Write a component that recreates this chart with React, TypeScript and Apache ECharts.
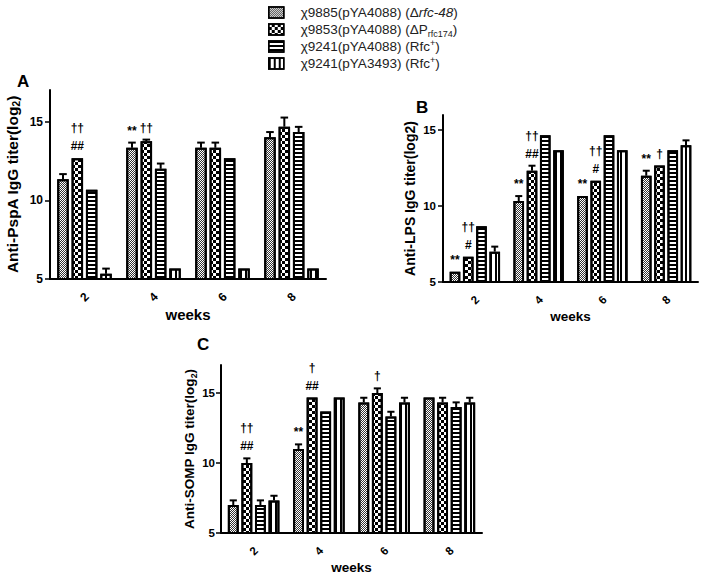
import React, { useEffect, useRef } from 'react';
import * as echarts from 'echarts';

// ---------- data ----------
const weeks = ['2', '4', '6', '8'];

const seriesNames = [
  'χ9885(pYA4088) (Δrfc-48)',
  'χ9853(pYA4088) (ΔPrfc174)',
  'χ9241(pYA4088) (Rfc+)',
  'χ9241(pYA3493) (Rfc+)',
];
const legendLabels = [
  'χ9885(pYA4088) (Δ{i|rfc-48})',
  'χ9853(pYA4088) (ΔP{sub|rfc174})',
  'χ9241(pYA4088) (Rfc{sup|+})',
  'χ9241(pYA3493) (Rfc{sup|+})',
];

// Panel A: Anti-PspA IgG titer (log2), one row per strain, one value per week
const pspaMeans = [
  [11.33, 13.33, 13.33, 14.0],
  [12.67, 13.75, 13.33, 14.67],
  [10.67, 12.0, 12.67, 14.33],
  [5.33, 5.67, 5.67, 5.67],
];
const pspaErrors = [
  [0.33, 0.33, 0.33, 0.33],
  [0, 0.1, 0.33, 0.58],
  [0, 0.33, 0, 0.33],
  [0.33, 0, 0, 0],
];
const pspaMarks = [
  ['', '**', '', ''],
  ['††\n##', '††', '', ''],
  ['', '', '', ''],
  ['', '', '', ''],
];

// Panel B: Anti-LPS IgG titer (log2)
const lpsMeans = [
  [5.67, 10.33, 10.67, 12.0],
  [6.67, 12.33, 11.67, 12.67],
  [8.67, 14.67, 14.67, 13.67],
  [7.0, 13.67, 13.67, 14.0],
];
const lpsErrors = [
  [0, 0.33, 0, 0.33],
  [0, 0.33, 0, 0],
  [0, 0, 0, 0],
  [0.33, 0, 0, 0.33],
];
const lpsMarks = [
  ['**', '**', '**', '**'],
  ['††\n#', '††\n##', '††\n#', '†'],
  ['', '', '', ''],
  ['', '', '', ''],
];

// Panel C: Anti-SOMP IgG titer (log2)
const sompMeans = [
  [7.0, 11.0, 14.33, 14.67],
  [10.0, 14.67, 15.0, 14.33],
  [7.0, 13.67, 13.33, 14.0],
  [7.33, 14.67, 14.33, 14.33],
];
const sompErrors = [
  [0.33, 0.33, 0.33, 0],
  [0.33, 0, 0.33, 0.33],
  [0.33, 0, 0.33, 0.33],
  [0.33, 0, 0.33, 0.33],
];
const sompMarks = [
  ['', '**', '', ''],
  ['††\n##', '†\n##', '†', ''],
  ['', '', '', ''],
  ['', '', '', ''],
];

const yTicks = [5, 10, 15];

// ---------- styling ----------
const FONT = '"Liberation Sans", Arial, sans-serif';
const CAT_GAP = 0.21;
const BAR_GAP = 0.25;

const decals: any[] = [
  { symbol: 'rect', symbolSize: 1, color: '#333', backgroundColor: '#fff', dashArrayX: [[1, 1], [0, 1, 1, 0]], dashArrayY: [1, 0] },
  { symbol: 'rect', symbolSize: 1, color: '#000', backgroundColor: '#fff', dashArrayX: [[3, 3], [0, 3, 3, 0]], dashArrayY: [3, 0] },
  { symbol: 'rect', symbolSize: 1, color: '#000', backgroundColor: '#fff', dashArrayX: [1, 0], dashArrayY: [1.5, 2] },
  { symbol: 'rect', symbolSize: 1, color: '#000', backgroundColor: '#fff', dashArrayX: [1.5, 2.2], dashArrayY: [1, 0] },
];

const panels = [
  {
    letter: 'A', means: pspaMeans, errors: pspaErrors, marks: pspaMarks, max: 17,
    name: 'Anti-PspA IgG titer(log{s|2})',
    grid: { left: 50, top: 90, width: 276, height: 189 },
    letterPos: { left: 17, top: 73 },
    titleSize: 15.5, titleGap: 29, tickSize: 12, weeksSize: 15, weeksGap: 28, labelMargin: 7,
  },
  {
    letter: 'B', means: lpsMeans, errors: lpsErrors, marks: lpsMarks, max: 16,
    name: 'Anti-LPS IgG titer(log2)',
    grid: { left: 443, top: 115, width: 255, height: 167 },
    letterPos: { left: 416, top: 99 },
    titleSize: 14, titleGap: 23, tickSize: 11.5, weeksSize: 13.5, weeksGap: 27, labelMargin: 7,
  },
  {
    letter: 'C', means: sompMeans, errors: sompErrors, marks: sompMarks, max: 17,
    name: 'Anti-SOMP IgG titer(log{s|2})',
    grid: { left: 221, top: 365, width: 261, height: 168 },
    letterPos: { left: 197, top: 336 },
    titleSize: 13.5, titleGap: 11, tickSize: 11.5, weeksSize: 13.5, weeksGap: 26, labelMargin: 6,
  },
];

function makeRenderItem(k: number, errs: number[], marks: string[]) {
  return (params: any, api: any) => {
    const cat = api.value(0);
    const val = api.value(1);
    const err = errs[params.dataIndex] || 0;
    const mark = marks[params.dataIndex] || '';
    const base = api.coord([cat, val]);
    const band = api.size([1, 0])[0];
    const avail = band * (1 - CAT_GAP);
    const bw = avail / (4 + 3 * BAR_GAP);
    const cx = base[0] - avail / 2 + k * bw * (1 + BAR_GAP) + bw / 2;
    const topY = api.coord([cat, val + err])[1];
    const children: any[] = [];
    if (err > 0) {
      children.push({ type: 'line', shape: { x1: cx, y1: base[1], x2: cx, y2: topY }, style: { stroke: '#000', lineWidth: 2 } });
      children.push({ type: 'line', shape: { x1: cx - bw * 0.33, y1: topY, x2: cx + bw * 0.33, y2: topY }, style: { stroke: '#000', lineWidth: 2 } });
    }
    if (mark) {
      children.push({
        type: 'text',
        style: {
          text: mark, x: cx, y: topY - 3, align: 'center', verticalAlign: 'bottom',
          fontFamily: FONT, fontSize: 12, fontWeight: 'bold', lineHeight: 18, fill: '#000',
        },
      });
    }
    return { type: 'group', children };
  };
}

function buildOption() {
  const grids: any[] = [];
  const xAxes: any[] = [];
  const yAxes: any[] = [];
  const series: any[] = [];
  const titles: any[] = [];

  panels.forEach((p, pi) => {
    grids.push({ ...p.grid, containLabel: false });
    titles.push({
      text: p.letter, left: p.letterPos.left, top: p.letterPos.top, padding: 0,
      textStyle: { fontFamily: FONT, fontSize: 17, fontWeight: 'bold', color: '#000' },
    });
    xAxes.push({
      type: 'category', gridIndex: pi, data: weeks, boundaryGap: true,
      name: 'weeks', nameLocation: 'middle', nameGap: p.weeksGap,
      nameTextStyle: { fontFamily: FONT, fontSize: p.weeksSize, fontWeight: 'bold', color: '#000' },
      axisLine: { lineStyle: { color: '#000', width: 2 } },
      axisTick: { alignWithLabel: true, length: 5, lineStyle: { color: '#000', width: 1.5 } },
      axisLabel: {
        rotate: 45, align: 'center', verticalAlign: 'middle', margin: 18,
        fontFamily: FONT, fontSize: p.tickSize, fontWeight: 'bold', color: '#000',
      },
      splitLine: { show: false },
    });
    yAxes.push({
      type: 'value', gridIndex: pi, min: 5, max: p.max, interval: 5,
      name: p.name, nameLocation: 'middle', nameGap: p.titleGap, nameRotate: 90,
      nameTextStyle: {
        fontFamily: FONT, fontSize: p.titleSize, fontWeight: 'bold', color: '#000', lineHeight: 18,
        rich: { s: { fontFamily: FONT, fontSize: p.titleSize * 0.65, fontWeight: 'bold', color: '#000', verticalAlign: 'bottom' } },
      },
      axisLine: { show: true, lineStyle: { color: '#000', width: 2 } },
      axisTick: { show: true, length: 5, customValues: yTicks, lineStyle: { color: '#000', width: 1.5 } },
      axisLabel: {
        customValues: yTicks, margin: p.labelMargin, fontFamily: FONT, fontSize: p.tickSize, fontWeight: 'bold', color: '#000',
        formatter: (v: number) => (v % 5 === 0 ? String(v) : ''),
      },
      splitLine: { show: false },
    });
    for (let k = 0; k < 4; k++) {
      series.push({
        type: 'bar', name: seriesNames[k], xAxisIndex: pi, yAxisIndex: pi,
        data: p.means[k], barGap: `${BAR_GAP * 100}%`, barCategoryGap: `${CAT_GAP * 100}%`,
        itemStyle: { color: '#fff', borderColor: '#000', borderWidth: 2, decal: decals[k] },
        emphasis: { disabled: true },
      });
    }
    for (let k = 0; k < 4; k++) {
      series.push({
        type: 'custom', name: `err-${p.letter}-${k}`, xAxisIndex: pi, yAxisIndex: pi,
        data: weeks.map((_, i) => [i, p.means[k][i]]),
        encode: { x: 0, y: 1 }, clip: false, z: 5,
        renderItem: makeRenderItem(k, p.errors[k], p.marks[k]),
      });
    }
  });

  return {
    animation: false,
    backgroundColor: '#fff',
    title: titles,
    legend: {
      data: seriesNames, orient: 'vertical', left: 268, top: 4, padding: 0, itemGap: 0,
      itemWidth: 15, itemHeight: 11, icon: 'rect', selectedMode: false,
      itemStyle: { borderColor: '#000', borderWidth: 1.5 },
      formatter: (name: string) => legendLabels[seriesNames.indexOf(name)],
      textStyle: {
        fontFamily: FONT, fontSize: 13.5, color: '#222', lineHeight: 17, padding: [0, 0, 0, 12],
        rich: {
          i: { fontFamily: FONT, fontSize: 13.5, fontStyle: 'italic', color: '#222', lineHeight: 17 },
          sub: { fontFamily: FONT, fontSize: 9, color: '#222', verticalAlign: 'bottom' },
          sup: { fontFamily: FONT, fontSize: 9, color: '#222', verticalAlign: 'top' },
        },
      },
    },
    grid: grids,
    xAxis: xAxes,
    yAxis: yAxes,
    series,
  };
}

export default function App() {
  const ref = useRef<HTMLDivElement>(null);
  useEffect(() => {
    if (!ref.current) return;
    const chart = echarts.init(ref.current, undefined, { renderer: 'svg' });
    chart.setOption(buildOption() as any);
    return () => chart.dispose();
  }, []);
  return (
    <div
      ref={ref}
      style={{ position: 'absolute', left: 0, top: 0, width: 704, height: 576, background: '#fff' }}
    />
  );
}
